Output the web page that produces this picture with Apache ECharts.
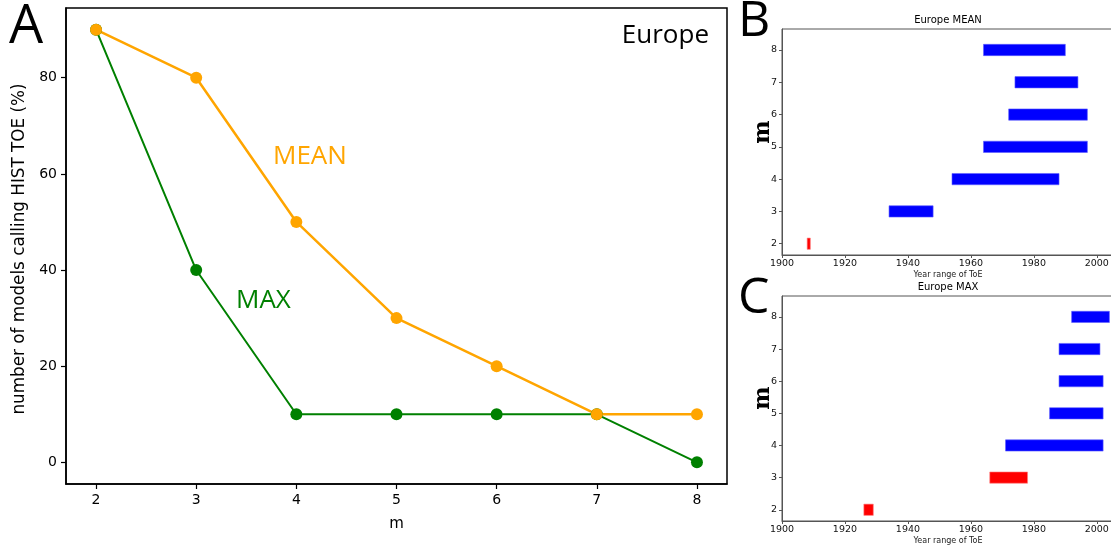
<!DOCTYPE html>
<html>
<head>
<meta charset="utf-8">
<script src="https://cdn.jsdelivr.net/npm/echarts@6/dist/echarts.min.js"></script>
<style>
html,body{margin:0;padding:0;background:#fff;}
#chart{width:1111px;height:548px;}
</style>
</head>
<body>
<div id="chart"></div>
<script>
// ---- Data ----
var mValues = [2, 3, 4, 5, 6, 7, 8];
var meanPct = [90, 80, 50, 30, 20, 10, 10];
var maxPct  = [90, 40, 10, 10, 10, 10, 0];
var pctTicks = [0, 20, 40, 60, 80];

var yearTicks = [1900, 1920, 1940, 1960, 1980, 2000];

// Panel B: Europe MEAN, year ranges of ToE per m
var meanStart = [1908, 1934, 1954, 1964, 1972, 1974, 1964];
var meanEnd   = [1909, 1948, 1988, 1997, 1997, 1994, 1990];
var meanHist  = [1, 0, 0, 0, 0, 0, 0];

// Panel C: Europe MAX
var maxStart = [1926, 1966, 1971, 1985, 1988, 1988, 1992];
var maxEnd   = [1929, 1978, 2002, 2002, 2002, 2001, 2004];
var maxHist  = [1, 1, 0, 0, 0, 0, 0];

// ---- Build ----
function rangeData(m, s, e, h) {
  return m.map(function (v, i) { return [s[i], e[i], v, h[i]]; });
}
function renderBar(params, api) {
  var p0 = api.coord([api.value(0), api.value(2)]);
  var p1 = api.coord([api.value(1), api.value(2)]);
  var h = api.size([0, 0.35])[1];
  return {
    type: 'rect',
    shape: { x: p0[0], y: p0[1] - h / 2, width: Math.max(p1[0] - p0[0], 1), height: h },
    style: { fill: api.value(3) ? '#ff0000' : '#0000ff', stroke: api.value(3) ? '#ff8080' : '#6060ff', lineWidth: 0.6 }
  };
}

var chart = echarts.init(document.getElementById('chart'), null, { renderer: 'canvas' });
var small = { fontFamily: 'DejaVu Sans', fontSize: 9.5, color: '#111' };
var smallAxisLine = { show: true, onZero: false, lineStyle: { color: '#555', width: 1 } };

function yearAxis(idx) {
  return {
    type: 'value', gridIndex: idx, min: 1900, max: 2008,
    splitLine: { show: false },
    axisLine: smallAxisLine,
    axisTick: { show: true, length: 3, customValues: yearTicks, lineStyle: { color: '#555' } },
    axisLabel: Object.assign({ customValues: yearTicks, margin: 4, formatter: function (v) { return String(v); } }, small)
  };
}
function mAxis(idx) {
  return {
    type: 'value', gridIndex: idx, min: 1.65, max: 8.65,
    splitLine: { show: false },
    axisLine: smallAxisLine,
    axisTick: { show: true, length: 3, customValues: mValues, lineStyle: { color: '#555' } },
    axisLabel: Object.assign({ customValues: mValues, margin: 5 }, small)
  };
}

var option = {
  backgroundColor: '#fff',
  animation: false,
  grid: [
    { left: 66, top: 8, width: 661, height: 476, show: true, borderColor: '#000', borderWidth: 1.5, containLabel: false, outerBoundsMode: 'none' },
    { left: 782, top: 29, width: 340, height: 226, show: true, borderColor: '#555', borderWidth: 1, containLabel: false, outerBoundsMode: 'none' },
    { left: 782, top: 296, width: 340, height: 225, show: true, borderColor: '#555', borderWidth: 1, containLabel: false, outerBoundsMode: 'none' }
  ],
  xAxis: [
    {
      type: 'value', gridIndex: 0, min: 1.7, max: 8.3,
      name: 'm', nameLocation: 'middle', nameGap: 33,
      nameTextStyle: { fontFamily: 'DejaVu Sans', fontSize: 15, color: '#000' },
      splitLine: { show: false },
      axisLine: { show: true, onZero: false, lineStyle: { color: '#000', width: 1.5 } },
      axisTick: { show: true, length: 5, customValues: mValues, lineStyle: { color: '#000', width: 1.2 } },
      axisLabel: { customValues: mValues, margin: 9, fontFamily: 'DejaVu Sans', fontSize: 14, color: '#000' }
    },
    yearAxis(1),
    yearAxis(2)
  ],
  yAxis: [
    {
      type: 'value', gridIndex: 0, min: -4.5, max: 94.5,
      splitLine: { show: false },
      axisLine: { show: true, onZero: false, lineStyle: { color: '#000', width: 1.5 } },
      axisTick: { show: true, length: 5, customValues: pctTicks, lineStyle: { color: '#000', width: 1.2 } },
      axisLabel: { customValues: pctTicks, margin: 9, fontFamily: 'DejaVu Sans', fontSize: 14, color: '#000' }
    },
    mAxis(1),
    mAxis(2)
  ],
  series: [
    {
      name: 'MAX', type: 'line', xAxisIndex: 0, yAxisIndex: 0,
      data: mValues.map(function (m, i) { return [m, maxPct[i]]; }),
      symbol: 'circle', symbolSize: 12,
      lineStyle: { color: '#008000', width: 2 },
      itemStyle: { color: '#008000' }
    },
    {
      name: 'MEAN', type: 'line', xAxisIndex: 0, yAxisIndex: 0,
      data: mValues.map(function (m, i) { return [m, meanPct[i]]; }),
      symbol: 'circle', symbolSize: 12,
      lineStyle: { color: '#ffa500', width: 2.5 },
      itemStyle: { color: '#ffa500' }
    },
    {
      type: 'custom', xAxisIndex: 1, yAxisIndex: 1,
      renderItem: renderBar, encode: { x: [0, 1], y: 2 },
      data: rangeData(mValues, meanStart, meanEnd, meanHist)
    },
    {
      type: 'custom', xAxisIndex: 2, yAxisIndex: 2,
      renderItem: renderBar, encode: { x: [0, 1], y: 2 },
      data: rangeData(mValues, maxStart, maxEnd, maxHist)
    }
  ],
  graphic: [
    { type: 'text', x: 9, y: 28, style: { text: 'A', font: '54px "Open Sans"', fill: '#000', textVerticalAlign: 'middle' } },
    { type: 'text', x: 738, y: 22, style: { text: 'B', font: '50px "Open Sans"', fill: '#000', textVerticalAlign: 'middle' } },
    { type: 'text', x: 738, y: 299, style: { text: 'C', font: '50px "Open Sans"', fill: '#000', textVerticalAlign: 'middle' } },
    { type: 'text', x: 709, y: 36, style: { text: 'Europe', font: '26px "Open Sans"', fill: '#000', textAlign: 'right', textVerticalAlign: 'middle' } },
    { type: 'text', x: 273, y: 157, style: { text: 'MEAN', font: '26px "Open Sans"', fill: '#ffa500', textVerticalAlign: 'middle' } },
    { type: 'text', x: 236, y: 301, style: { text: 'MAX', font: '26px "Open Sans"', fill: '#008000', textVerticalAlign: 'middle' } },
    { type: 'text', x: 20, y: 249, rotation: Math.PI / 2, style: { text: 'number of models calling HIST TOE (%)', font: '16.8px "DejaVu Sans"', fill: '#000', textAlign: 'center', textVerticalAlign: 'middle' } },
    { type: 'text', x: 948, y: 20, style: { text: 'Europe MEAN', font: '10px "DejaVu Sans"', fill: '#000', textAlign: 'center', textVerticalAlign: 'middle' } },
    { type: 'text', x: 948, y: 287, style: { text: 'Europe MAX', font: '10px "DejaVu Sans"', fill: '#000', textAlign: 'center', textVerticalAlign: 'middle' } },
    { type: 'text', x: 948, y: 275, style: { text: 'Year range of ToE', font: '8px "DejaVu Sans"', fill: '#222', textAlign: 'center', textVerticalAlign: 'middle' } },
    { type: 'text', x: 948, y: 541, style: { text: 'Year range of ToE', font: '8px "DejaVu Sans"', fill: '#222', textAlign: 'center', textVerticalAlign: 'middle' } },
    { type: 'text', x: 763, y: 132, rotation: Math.PI / 2, style: { text: 'm', font: 'bold 22px "DejaVu Serif"', fill: '#000', textAlign: 'center', textVerticalAlign: 'middle' } },
    { type: 'text', x: 763, y: 398, rotation: Math.PI / 2, style: { text: 'm', font: 'bold 22px "DejaVu Serif"', fill: '#000', textAlign: 'center', textVerticalAlign: 'middle' } }
  ]
};
chart.setOption(option);
</script>
</body>
</html>
